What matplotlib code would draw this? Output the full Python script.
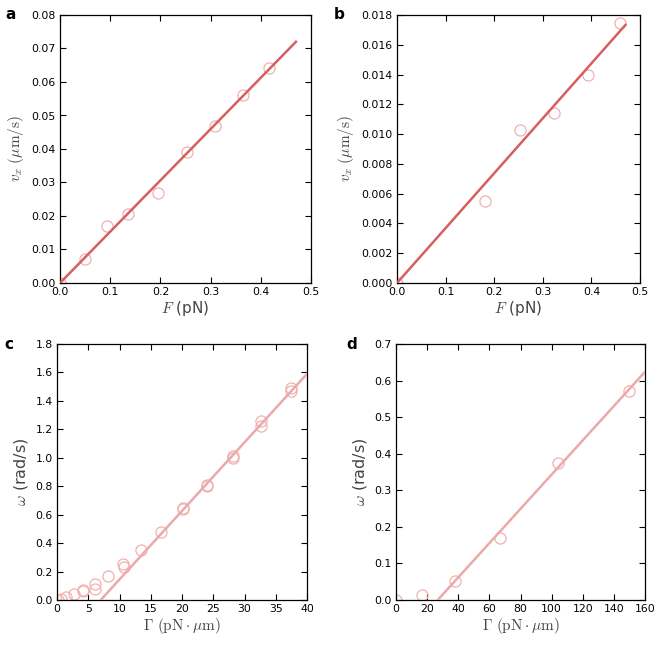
import numpy as np
import matplotlib
matplotlib.use('Agg')
import matplotlib.pyplot as plt

plt.rcParams['font.family'] = 'DejaVu Sans'
plt.rcParams['mathtext.fontset'] = 'cm'

# panel a : force vs velocity
a_force = [0.0, 0.050, 0.093, 0.136, 0.196, 0.252, 0.309, 0.364, 0.417]
a_vel = [0.0, 0.0071, 0.0169, 0.0205, 0.0269, 0.0392, 0.0468, 0.0561, 0.0641]
a_fit_x = [0.0, 0.47]
a_fit_y = [0.0, 0.0720]

# panel b
b_force = [0.0, 0.1815, 0.253, 0.324, 0.392, 0.459]
b_vel = [0.0, 0.00549, 0.01027, 0.01143, 0.01397, 0.01748]
b_fit_x = [0.0, 0.47]
b_fit_y = [0.0, 0.01733]

# panel c : torque vs angular velocity
c_torque = [0.2, 0.7, 1.5, 2.7, 4.2, 4.2, 6.0, 6.0, 8.2, 10.6, 10.7,
            13.5, 16.7, 20.2, 20.2, 24.0, 24.0, 28.2, 28.2,
            32.7, 32.7, 37.5, 37.5]
c_omega = [0.0, 0.01, 0.02, 0.04, 0.07, 0.06, 0.08, 0.11, 0.17, 0.25, 0.23,
           0.35, 0.48, 0.65, 0.64, 0.81, 0.80, 1.01, 1.00,
           1.26, 1.22, 1.49, 1.47]
c_fit_x = [7.0, 40.0]
c_fit_y = [0.0, 1.59]

# panel d
d_torque = [0.0, 16.5, 37.6, 67.0, 104.2, 149.7]
d_omega = [0.0, 0.013, 0.053, 0.169, 0.374, 0.572]
d_fit_x = [26.8, 160.0]
d_fit_y = [0.0, 0.624]

red = '#d65f5f'
pink = '#ebaaaa'
circ = '#f2b0b0'
label_col = '#444444'

W, H = 664, 646
fig = plt.figure(figsize=(W / 100, H / 100), dpi=100)


def box(l, r, t, b):
    return [l / W, 1 - b / H, (r - l) / W, (b - t) / H]


# rect, data, fit, line colour, letter, letter pixel position (x, top y)
panels = [
    (box(60, 311, 15, 283), a_force, a_vel, a_fit_x, a_fit_y, red, 'a', (5, 7)),
    (box(397, 640, 15, 283), b_force, b_vel, b_fit_x, b_fit_y, red, 'b', (334, 7)),
    (box(57, 307, 344, 600), c_torque, c_omega, c_fit_x, c_fit_y, pink, 'c', (4, 337)),
    (box(396, 645, 344, 600), d_torque, d_omega, d_fit_x, d_fit_y, pink, 'd', (346, 337)),
]

axes = []
for rect, xs, ys, fx, fy, lc, letter, (lx, ly) in panels:
    ax = fig.add_axes(rect)
    ax.plot(xs, ys, 'o', mfc='none', mec=circ, mew=0.9, ms=8, zorder=2)
    ax.plot(fx, fy, color=lc, lw=1.8, zorder=3)
    ax.tick_params(direction='in', top=True, right=True, length=4, width=0.8,
                   labelsize=7.8, pad=3)
    for s in ax.spines.values():
        s.set_linewidth(0.9)
    axes.append(ax)
    fig.text(lx / W, 1 - ly / H, letter, fontsize=11, fontweight='bold',
             va='top', ha='left')

ax_a, ax_b, ax_c, ax_d = axes

ax_a.set_xlim(0, 0.5)
ax_a.set_ylim(0, 0.08)
ax_a.set_xticks(np.arange(0, 0.51, 0.1))
ax_a.set_yticks(np.arange(0, 0.081, 0.01))
ax_a.set_xticklabels(['0.0', '0.1', '0.2', '0.3', '0.4', '0.5'])
ax_a.set_yticklabels(['%.2f' % v for v in np.arange(0, 0.081, 0.01)])

ax_b.set_xlim(0, 0.5)
ax_b.set_ylim(0, 0.018)
ax_b.set_xticks(np.arange(0, 0.51, 0.1))
ax_b.set_yticks(np.arange(0, 0.0181, 0.002))
ax_b.set_xticklabels(['0.0', '0.1', '0.2', '0.3', '0.4', '0.5'])
ax_b.set_yticklabels(['%.3f' % v for v in np.arange(0, 0.0181, 0.002)])

for ax in (ax_a, ax_b):
    ax.set_xlabel(r'$F$ (pN)', fontsize=11, color=label_col, labelpad=1)
    ax.set_ylabel(r'$v_x\ (\mu\mathrm{m/s})$', fontsize=11, color=label_col, labelpad=4)

ax_c.set_xlim(0, 40)
ax_c.set_ylim(0, 1.8)
ax_c.set_xticks(range(0, 41, 5))
ax_c.set_yticks(np.arange(0, 1.81, 0.2))
ax_c.set_yticklabels(['%.1f' % v for v in np.arange(0, 1.81, 0.2)])

ax_d.set_xlim(0, 160)
ax_d.set_ylim(0, 0.7)
ax_d.set_xticks(range(0, 161, 20))
ax_d.set_yticks(np.arange(0, 0.71, 0.1))
ax_d.set_yticklabels(['%.1f' % v for v in np.arange(0, 0.71, 0.1)])

for ax in (ax_c, ax_d):
    ax.set_xlabel(r'$\Gamma\ (\mathrm{pN}\cdot\mu\mathrm{m})$', fontsize=11,
                  color=label_col, labelpad=1)
    ax.set_ylabel(r'$\omega$ (rad/s)', fontsize=11.5, color=label_col, labelpad=4)

fig.savefig('out.png', dpi=100)
